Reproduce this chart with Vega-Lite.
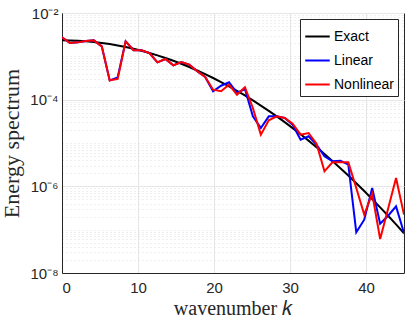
{
  "$schema": "https://vega.github.io/schema/vega-lite/v6.json",
  "width": 342,
  "height": 260,
  "autosize": {"type": "none"},
  "padding": {"left": 62, "top": 13, "right": 7, "bottom": 49},
  "background": "white",
  "config": {
    "view": {"stroke": "#262626", "strokeWidth": 1},
    "font": "Liberation Sans"
  },
  "data": {
    "values": [
      {"k": 0, "series": "Exact", "E": 2.344e-3},
      {"k": 1.0465, "series": "Exact", "E": 2.331e-3},
      {"k": 2.093, "series": "Exact", "E": 2.293e-3},
      {"k": 3.1395, "series": "Exact", "E": 2.230e-3},
      {"k": 4.186, "series": "Exact", "E": 2.145e-3},
      {"k": 5.2326, "series": "Exact", "E": 2.040e-3},
      {"k": 6.2791, "series": "Exact", "E": 1.920e-3},
      {"k": 7.3256, "series": "Exact", "E": 1.786e-3},
      {"k": 8.3721, "series": "Exact", "E": 1.643e-3},
      {"k": 9.4186, "series": "Exact", "E": 1.496e-3},
      {"k": 10.4651, "series": "Exact", "E": 1.346e-3},
      {"k": 11.5116, "series": "Exact", "E": 1.198e-3},
      {"k": 12.5581, "series": "Exact", "E": 1.054e-3},
      {"k": 13.6047, "series": "Exact", "E": 9.18e-4},
      {"k": 14.6512, "series": "Exact", "E": 7.90e-4},
      {"k": 15.6977, "series": "Exact", "E": 6.73e-4},
      {"k": 16.7442, "series": "Exact", "E": 5.66e-4},
      {"k": 17.7907, "series": "Exact", "E": 4.72e-4},
      {"k": 18.8372, "series": "Exact", "E": 3.88e-4},
      {"k": 19.8837, "series": "Exact", "E": 3.16e-4},
      {"k": 20.9302, "series": "Exact", "E": 2.55e-4},
      {"k": 21.9767, "series": "Exact", "E": 2.03e-4},
      {"k": 23.0233, "series": "Exact", "E": 1.60e-4},
      {"k": 24.0698, "series": "Exact", "E": 1.25e-4},
      {"k": 25.1163, "series": "Exact", "E": 9.60e-5},
      {"k": 26.1628, "series": "Exact", "E": 7.31e-5},
      {"k": 27.2093, "series": "Exact", "E": 5.51e-5},
      {"k": 28.2558, "series": "Exact", "E": 4.11e-5},
      {"k": 29.3023, "series": "Exact", "E": 3.03e-5},
      {"k": 30.3488, "series": "Exact", "E": 2.21e-5},
      {"k": 31.3953, "series": "Exact", "E": 1.59e-5},
      {"k": 32.4419, "series": "Exact", "E": 1.134e-5},
      {"k": 33.4884, "series": "Exact", "E": 7.99e-6},
      {"k": 34.5349, "series": "Exact", "E": 5.57e-6},
      {"k": 35.5814, "series": "Exact", "E": 3.84e-6},
      {"k": 36.6279, "series": "Exact", "E": 2.62e-6},
      {"k": 37.6744, "series": "Exact", "E": 1.77e-6},
      {"k": 38.7209, "series": "Exact", "E": 1.18e-6},
      {"k": 39.7674, "series": "Exact", "E": 7.78e-7},
      {"k": 40.814, "series": "Exact", "E": 5.07e-7},
      {"k": 41.8605, "series": "Exact", "E": 3.27e-7},
      {"k": 42.907, "series": "Exact", "E": 2.09e-7},
      {"k": 43.9535, "series": "Exact", "E": 1.32e-7},
      {"k": 45, "series": "Exact", "E": 8.22e-8},

      {"k": 0, "series": "Linear", "E": 2.745e-3},
      {"k": 1.0465, "series": "Linear", "E": 2.03e-3},
      {"k": 2.093, "series": "Linear", "E": 2.10e-3},
      {"k": 3.1395, "series": "Linear", "E": 2.26e-3},
      {"k": 4.186, "series": "Linear", "E": 2.34e-3},
      {"k": 5.2326, "series": "Linear", "E": 1.70e-3},
      {"k": 6.2791, "series": "Linear", "E": 2.79e-4},
      {"k": 7.3256, "series": "Linear", "E": 3.28e-4},
      {"k": 8.3721, "series": "Linear", "E": 2.22e-3},
      {"k": 9.4186, "series": "Linear", "E": 1.38e-3},
      {"k": 10.4651, "series": "Linear", "E": 1.38e-3},
      {"k": 11.5116, "series": "Linear", "E": 1.19e-3},
      {"k": 12.5581, "series": "Linear", "E": 7.27e-4},
      {"k": 13.6047, "series": "Linear", "E": 8.68e-4},
      {"k": 14.6512, "series": "Linear", "E": 6.19e-4},
      {"k": 15.6977, "series": "Linear", "E": 7.40e-4},
      {"k": 16.7442, "series": "Linear", "E": 6.42e-4},
      {"k": 17.7907, "series": "Linear", "E": 4.51e-4},
      {"k": 18.8372, "series": "Linear", "E": 3.34e-4},
      {"k": 19.8837, "series": "Linear", "E": 1.56e-4},
      {"k": 20.9302, "series": "Linear", "E": 2.10e-4},
      {"k": 21.9767, "series": "Linear", "E": 2.51e-4},
      {"k": 23.0233, "series": "Linear", "E": 1.43e-4},
      {"k": 24.0698, "series": "Linear", "E": 1.76e-4},
      {"k": 25.1163, "series": "Linear", "E": 4.12e-5},
      {"k": 26.1628, "series": "Linear", "E": 2.22e-5},
      {"k": 27.2093, "series": "Linear", "E": 4.12e-5},
      {"k": 28.2558, "series": "Linear", "E": 4.12e-5},
      {"k": 29.3023, "series": "Linear", "E": 3.78e-5},
      {"k": 30.3488, "series": "Linear", "E": 2.65e-5},
      {"k": 31.3953, "series": "Linear", "E": 1.19e-5},
      {"k": 32.4419, "series": "Linear", "E": 1.43e-5},
      {"k": 33.4884, "series": "Linear", "E": 9.16e-6},
      {"k": 34.5349, "series": "Linear", "E": 4.92e-6},
      {"k": 35.5814, "series": "Linear", "E": 3.78e-6},
      {"k": 36.6279, "series": "Linear", "E": 3.91e-6},
      {"k": 37.6744, "series": "Linear", "E": 3.16e-6},
      {"k": 38.7209, "series": "Linear", "E": 8.68e-8},
      {"k": 39.7674, "series": "Linear", "E": 1.70e-7},
      {"k": 40.814, "series": "Linear", "E": 9.16e-7},
      {"k": 41.8605, "series": "Linear", "E": 1.37e-7},
      {"k": 42.907, "series": "Linear", "E": 2.10e-7},
      {"k": 43.9535, "series": "Linear", "E": 3.45e-7},
      {"k": 45, "series": "Linear", "E": 8.38e-8},

      {"k": 0, "series": "Nonlinear", "E": 2.745e-3},
      {"k": 1.0465, "series": "Nonlinear", "E": 2.03e-3},
      {"k": 2.093, "series": "Nonlinear", "E": 2.10e-3},
      {"k": 3.1395, "series": "Nonlinear", "E": 2.26e-3},
      {"k": 4.186, "series": "Nonlinear", "E": 2.34e-3},
      {"k": 5.2326, "series": "Nonlinear", "E": 1.70e-3},
      {"k": 6.2791, "series": "Nonlinear", "E": 2.79e-4},
      {"k": 7.3256, "series": "Nonlinear", "E": 3.00e-4},
      {"k": 8.3721, "series": "Nonlinear", "E": 2.22e-3},
      {"k": 9.4186, "series": "Nonlinear", "E": 1.38e-3},
      {"k": 10.4651, "series": "Nonlinear", "E": 1.38e-3},
      {"k": 11.5116, "series": "Nonlinear", "E": 1.19e-3},
      {"k": 12.5581, "series": "Nonlinear", "E": 7.27e-4},
      {"k": 13.6047, "series": "Nonlinear", "E": 8.68e-4},
      {"k": 14.6512, "series": "Nonlinear", "E": 6.19e-4},
      {"k": 15.6977, "series": "Nonlinear", "E": 7.40e-4},
      {"k": 16.7442, "series": "Nonlinear", "E": 6.42e-4},
      {"k": 17.7907, "series": "Nonlinear", "E": 4.51e-4},
      {"k": 18.8372, "series": "Nonlinear", "E": 3.34e-4},
      {"k": 19.8837, "series": "Nonlinear", "E": 1.70e-4},
      {"k": 20.9302, "series": "Nonlinear", "E": 1.56e-4},
      {"k": 21.9767, "series": "Nonlinear", "E": 2.22e-4},
      {"k": 23.0233, "series": "Nonlinear", "E": 1.30e-4},
      {"k": 24.0698, "series": "Nonlinear", "E": 1.93e-4},
      {"k": 25.1163, "series": "Nonlinear", "E": 6.43e-5},
      {"k": 26.1628, "series": "Nonlinear", "E": 1.56e-5},
      {"k": 27.2093, "series": "Nonlinear", "E": 3.34e-5},
      {"k": 28.2558, "series": "Nonlinear", "E": 4.12e-5},
      {"k": 29.3023, "series": "Nonlinear", "E": 3.78e-5},
      {"k": 30.3488, "series": "Nonlinear", "E": 2.79e-5},
      {"k": 31.3953, "series": "Nonlinear", "E": 1.56e-5},
      {"k": 32.4419, "series": "Nonlinear", "E": 1.70e-5},
      {"k": 33.4884, "series": "Nonlinear", "E": 9.66e-6},
      {"k": 34.5349, "series": "Nonlinear", "E": 2.22e-6},
      {"k": 35.5814, "series": "Nonlinear", "E": 3.58e-6},
      {"k": 36.6279, "series": "Nonlinear", "E": 3.58e-6},
      {"k": 37.6744, "series": "Nonlinear", "E": 3.58e-6},
      {"k": 38.7209, "series": "Nonlinear", "E": 9.16e-7},
      {"k": 39.7674, "series": "Nonlinear", "E": 2.22e-7},
      {"k": 40.814, "series": "Nonlinear", "E": 6.78e-7},
      {"k": 41.8605, "series": "Nonlinear", "E": 6.09e-8},
      {"k": 42.907, "series": "Nonlinear", "E": 3.05e-7},
      {"k": 43.9535, "series": "Nonlinear", "E": 1.56e-6},
      {"k": 45, "series": "Nonlinear", "E": 2.22e-7}
    ]
  },
  "mark": {"type": "line", "strokeWidth": 2, "clip": true},
  "encoding": {
    "x": {
      "field": "k",
      "type": "quantitative",
      "scale": {"domain": [0, 45], "nice": false, "zero": false},
      "axis": {
        "title": "wavenumber 𝑘",
        "titleFont": "Liberation Serif",
        "titleFontSize": 20,
        "titleFontWeight": "normal",
        "titleColor": "#262626",
        "titlePadding": 3,
        "values": [0, 10, 20, 30, 40],
        "labelFontSize": 15,
        "labelColor": "#262626",
        "labelPadding": 7,
        "ticks": false,
        "domainColor": "#262626",
        "gridColor": "#e6e6e6",
        "gridWidth": 1
      }
    },
    "y": {
      "field": "E",
      "type": "quantitative",
      "scale": {"type": "log", "domain": [1e-8, 1e-2], "nice": false},
      "axis": {
        "title": "Energy spectrum",
        "titleFont": "Liberation Serif",
        "titleFontSize": 22,
        "titleFontWeight": "normal",
        "titleColor": "#262626",
        "titlePadding": 6,
        "values": [1e-8, 2e-8, 3e-8, 4e-8, 5e-8, 6e-8, 7e-8, 8e-8, 9e-8,
                   1e-7, 2e-7, 3e-7, 4e-7, 5e-7, 6e-7, 7e-7, 8e-7, 9e-7,
                   1e-6, 2e-6, 3e-6, 4e-6, 5e-6, 6e-6, 7e-6, 8e-6, 9e-6,
                   1e-5, 2e-5, 3e-5, 4e-5, 5e-5, 6e-5, 7e-5, 8e-5, 9e-5,
                   1e-4, 2e-4, 3e-4, 4e-4, 5e-4, 6e-4, 7e-4, 8e-4, 9e-4,
                   1e-3, 2e-3, 3e-3, 4e-3, 5e-3, 6e-3, 7e-3, 8e-3, 9e-3, 1e-2],
        "labelExpr": "(abs(log(datum.value)/LN10 - round(log(datum.value)/LN10)) < 1e-6 && round(log(datum.value)/LN10) % 2 == 0) ? '10' + ['⁻⁸','⁻⁷','⁻⁶','⁻⁵','⁻⁴','⁻³','⁻²'][round(log(datum.value)/LN10) + 8] : ''",
        "labelFontSize": 15,
        "labelColor": "#262626",
        "labelPadding": 4,
        "ticks": false,
        "domainColor": "#262626",
        "gridColor": {"condition": {"test": "abs(log(datum.value)/LN10 - round(log(datum.value)/LN10)) < 1e-6 && round(log(datum.value)/LN10) % 2 == 0", "value": "#e6e6e6"}, "value": "#dedede"},
        "gridDash": {"condition": {"test": "abs(log(datum.value)/LN10 - round(log(datum.value)/LN10)) < 1e-6 && round(log(datum.value)/LN10) % 2 == 0", "value": []}, "value": [1, 3]},
        "gridWidth": 1
      }
    },
    "color": {
      "field": "series",
      "type": "nominal",
      "scale": {"domain": ["Exact", "Linear", "Nonlinear"], "range": ["#000000", "#0000ff", "#ff0000"]},
      "legend": {
        "title": null,
        "orient": "top-right",
        "offset": 6,
        "fillColor": "white",
        "strokeColor": "#262626",
        "padding": 4,
        "rowPadding": 3,
        "labelFontSize": 14,
        "labelColor": "#000000",
        "labelOffset": 3,
        "symbolType": "stroke",
        "symbolSize": 600,
        "symbolStrokeWidth": 2
      }
    }
  }
}
